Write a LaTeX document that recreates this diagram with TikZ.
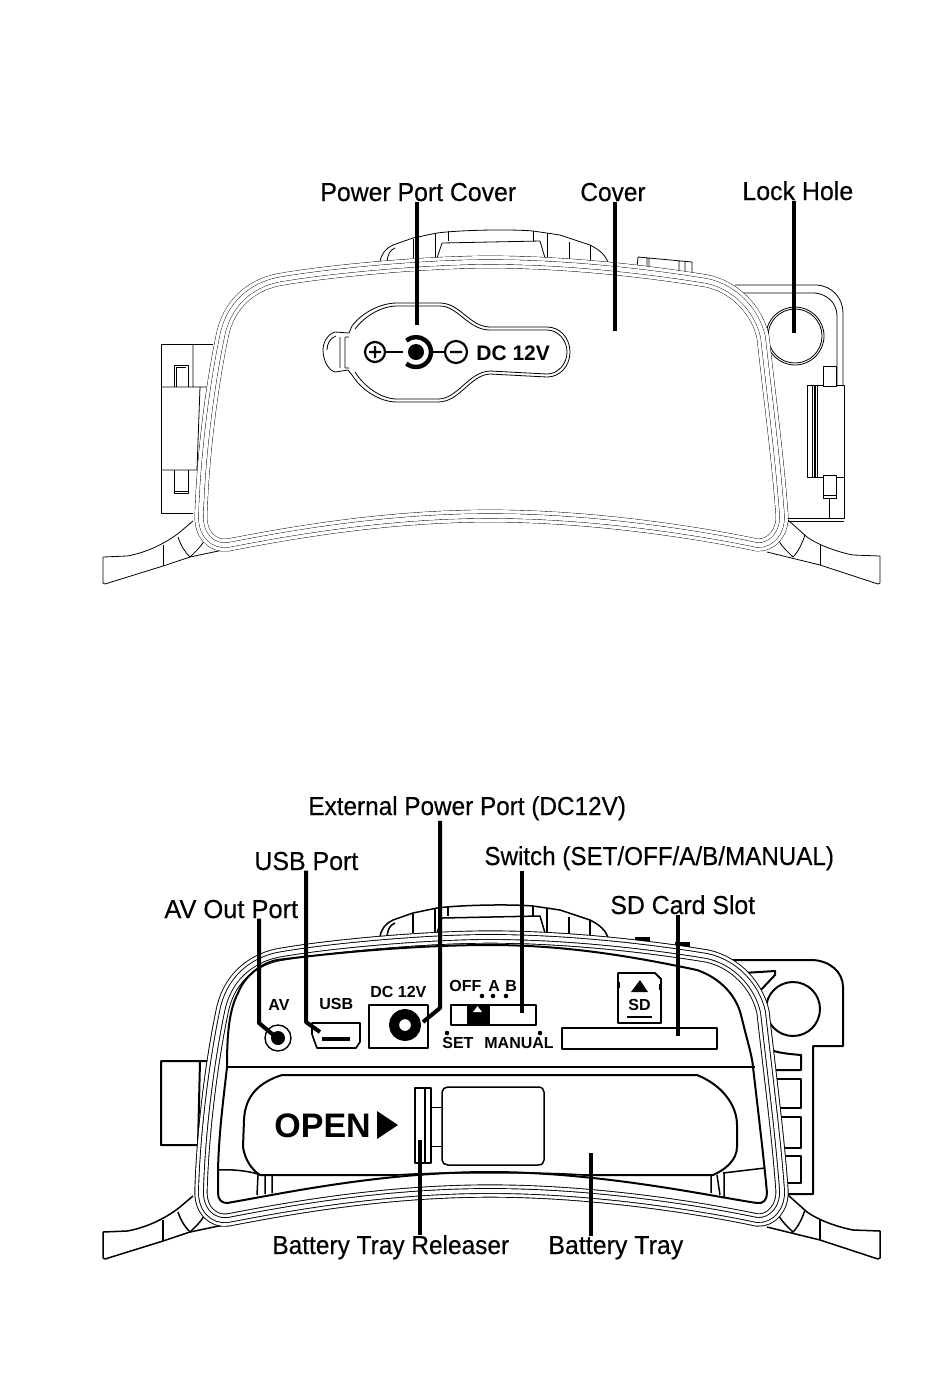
\documentclass[tikz,border=0pt]{standalone}
\usepackage{fontspec}
\usepackage{graphicx}
\setmainfont{Liberation Sans}
\newfontfamily\lblfont[FakeBold=0.35,FakeStretch=0.94]{Liberation Sans}
\newfontfamily\prtfont[Scale=1]{Liberation Sans Bold}
\newcommand\sx[2]{\scalebox{#1}[1]{#2}}
\begin{document}
\begin{tikzpicture}[x=0.5pt,y=-0.5pt,line join=round,
  lbl/.style={anchor=base west,inner sep=0pt,font=\lblfont\fontsize{13}{13}\selectfont},
  prt/.style={anchor=base west,inner sep=0pt,font=\prtfont\fontsize{8}{8}\selectfont},
  leader/.style={line width=2pt,black},
  fine/.style={line width=0.4pt,black},
  mid/.style={line width=0.75pt,black},
  heavy/.style={line width=1pt,black}]
\useasboundingbox (0,0) rectangle (950,1378);
\fill[white] (0,0) rectangle (950,1378);
\def\bodypath{(490,262) .. controls (560,262) and (640,270) .. (707,281) .. controls (735,287) and (757,310) .. (763,337) .. controls (770,400) and (778,460) .. (782,515) .. controls (783,532) and (772,546) .. (757,545) .. controls (710,535) and (600,516) .. (490,516) .. controls (380,516) and (280,535) .. (228,545) .. controls (213,547) and (200,535) .. (201,515) .. controls (203,450) and (213,380) .. (222,337) .. controls (228,305) and (250,286) .. (277,280) .. controls (320,272) and (420,262) .. (490,262) -- cycle}
\def\wings{%
  \draw (103,557)--(127,556) .. controls (145,553) and (165,544) .. (180,532) -- (193,521);
  \draw (103,557)--(103,583)--(105,584)--(163,566)--(190,557)--(228,549);
  \draw (163,545)--(163,566);
  \draw (178,537) .. controls (181,546) and (185,552) .. (190,557) .. controls (195,552) and (200,548) .. (204,541);
  \draw (788,520)--(807,537) .. controls (820,546) and (838,552) .. (853,555)--(880,556)--(880,583)--(878,584)--(820,565)--(767,552);
  \draw (820,545)--(820,565);
  \draw (805,535) .. controls (802,544) and (798,552) .. (793,557) .. controls (788,552) and (783,548) .. (779,541);
}
\def\handlepath{%
  \draw (380,262) .. controls (381,254) and (386,248) .. (393,245) -- (413,238) -- (437,233) .. controls (460,230) and (510,229) .. (533,231) -- (560,235) -- (590,245) .. controls (600,250) and (605,255) .. (608,262);
  \draw (387,261) .. controls (388,254) and (390,250) .. (395,248);
  \draw (437,258)--(442,243)--(540,241)--(545,258);
  \draw (413,239)--(413,258) (435,233)--(435,257) (448,231)--(448,241) (533,231)--(533,241) (547,233)--(547,257) (569,242)--(569,259) (590,245)--(590,260);
}
% ===== top view =====
\begin{scope}[fine]
\draw (213,344)--(161,344)--(161,513)--(193,513);
\draw (161,387)--(207,387) (161,470)--(197,470) (193,344)--(193,387) (200,387)--(197,470);
\draw (174,387)--(174,365)--(188,365)--(188,387) (176,387)--(176,367)--(186,367);
\draw (174,470)--(174,493)--(188,493)--(188,470) (174,491)--(188,491);
\wings
\handlepath
\draw (637,267)--(638,257)--(692,262)--(692,273) (647,258)--(647,268) (649,258)--(649,268) (679,261)--(679,271) (685,262)--(685,272);
\draw (735,285)--(817,285) .. controls (832,286) and (843,298) .. (843,313) -- (843,385);
\draw (738,293)--(815,293) .. controls (826,294) and (837,302) .. (837,316) -- (837,385);
\draw (807,385) rectangle (844,477);
\draw (812,385)--(812,477) (817,385)--(817,477);
\draw[line width=1pt] (814.5,385)--(814.5,477);
\draw[fill=white] (823,366) rectangle (836,386);
\draw[fill=white] (823,475) rectangle (836,498);
\draw (823,495)--(836,495);
\draw (844,477)--(844,518)--(787,518) (787,521)--(844,521) (829,498)--(829,518);
\draw[fill=white] (795,336) circle[radius=29];
\draw (795,336) circle[radius=27];
\end{scope}
\fill[white] \bodypath;
\draw[line width=6.35pt,black] \bodypath;
\draw[line width=5.95pt,white] \bodypath;
\draw[line width=2.6pt,black] \bodypath;
\draw[line width=2.2pt,white] \bodypath;
% power port cover
\def\capshape{(323,350) .. controls (323,342) and (328,334) .. (335,332) -- (349,333) -- (352,326) .. controls (360,315) and (378,303) .. (397,303) -- (440,303) .. controls (460,303) and (470,327) .. (490,327) -- (547,327) .. controls (560,327) and (570,338) .. (570,352) .. controls (570,366) and (560,377) .. (547,377) -- (490,374) .. controls (470,375) and (460,402) .. (438,402) -- (397,402) .. controls (378,402) and (360,388) .. (352,375) -- (348,370) -- (335,372) .. controls (328,370) and (323,360) .. (323,350) -- cycle}
\draw[fine,fill=white] \capshape;
\draw[fine] (327,350) .. controls (327,344) and (330,338) .. (336,336) (340,337)--(340,368) (345,337)--(349,337) (345,368)--(349,368) (345,337)--(345,368);
\draw[fine] (355,329) .. controls (363,318) and (380,306) .. (397,306) -- (440,306) .. controls (458,306) and (468,330) .. (490,330) -- (547,330) .. controls (558,330) and (567,340) .. (567,352) .. controls (567,364) and (558,374) .. (547,374) -- (490,371) .. controls (468,372) and (458,399) .. (438,399) -- (397,399) .. controls (380,399) and (363,385) .. (355,372);
\draw[heavy,line width=1.1pt] (375,352) circle[radius=10] (369,352)--(381,352) (375,346)--(375,358);
\draw[line width=1.1pt] (456,352) circle[radius=11] (450,352)--(462,352);
\draw[line width=1.1pt] (385,352)--(403,352) (432,352)--(445,352);
\fill (416,352) circle[radius=8];
\draw[line width=2.2pt] (416,352) ++(130:15) arc[start angle=130,end angle=-130,radius=15];
\node[prt,font=\prtfont\fontsize{10.5}{10.5}\selectfont] (dctop) at (476,360) {DC 12V};
\node[lbl] (ppc) at (320,201) {\sx{1.015}{Power Port Cover}};
\node[lbl] (cov) at (580,201) {Cover};
\node[lbl] (lh) at (742,200) {\sx{1.02}{Lock Hole}};
\coordinate (tppc) at (417,325);
\coordinate (tcov) at (615,331);
\coordinate (tlh) at (794,333);
\draw[leader] (ppc.south -| tppc) -- (tppc);
\draw[leader] (cov.south -| tcov) -- (tcov);
\draw[leader] (lh.south -| tlh) -- (tlh);
% ===== bottom view =====
\begin{scope}[mid]
\draw[heavy] (207,1061)--(161,1061)--(161,1145)--(202,1145) (200,1061)--(198,1145);
\begin{scope}[shift={(0,675)}]
\wings
\handlepath
\end{scope}
\fill (635,937) rectangle (650,942);
\fill (675,942) rectangle (690,947);
\draw[heavy] (732,960)--(813,960) .. controls (830,961) and (843,972) .. (843,987) -- (843,1046) -- (813,1046) -- (813,1194) -- (772,1194);
\draw[heavy] (793,1009) circle[radius=27];
\draw[heavy] (743,973)--(775,971)--(775,975)--(758,993)--(755,992)--cycle;
\draw[heavy] (767,1048) .. controls (775,1053) and (790,1054) .. (801,1055) -- (801,1070) -- (768,1070);
\draw[heavy] (772,1079) rectangle (801,1108);
\draw[heavy] (777,1117) rectangle (801,1148);
\draw[heavy] (779,1156) rectangle (801,1183);
\end{scope}
\begin{scope}[shift={(0,675)}]
\fill[white] \bodypath;
\draw[line width=6.6pt,black] \bodypath;
\draw[line width=5.7pt,white] \bodypath;
\draw[line width=2.9pt,black] \bodypath;
\draw[line width=2pt,white] \bodypath;
\end{scope}
% cavity
\draw[heavy] (227,1067) .. controls (227,1035) and (229,1010) .. (238,993) .. controls (245,975) and (262,963) .. (277,960) .. controls (340,952) and (420,945) .. (490,945) .. controls (570,945) and (640,958) .. (697,970) .. controls (720,978) and (736,995) .. (741,1015) .. controls (747,1040) and (752,1055) .. (753,1067) .. controls (758,1110) and (764,1160) .. (767,1193) .. controls (767,1200) and (763,1204) .. (757,1203) .. controls (710,1196) and (600,1172) .. (490,1172) .. controls (380,1172) and (280,1194) .. (227,1203) .. controls (222,1203) and (218,1200) .. (218,1193) -- (218,1170) .. controls (219,1130) and (224,1095) .. (227,1067) -- cycle;
\draw[heavy] (227,1067)--(755,1067);
\draw[heavy] (282,1075)--(697,1075) .. controls (722,1085) and (737,1105) .. (737,1125) -- (737,1147) .. controls (737,1160) and (725,1170) .. (713,1175) -- (583,1175);
\draw[heavy] (282,1075) .. controls (260,1082) and (245,1095) .. (244,1120) -- (243,1147) .. controls (245,1160) and (252,1170) .. (260,1175) -- (397,1175);
\draw[mid] (397,1175) .. controls (430,1172) and (550,1172) .. (583,1175);
\draw[mid] (218,1170) .. controls (232,1169) and (248,1171) .. (258,1174);
\draw[mid] (258,1175)--(257,1195) (265,1175)--(265,1194) (272,1175)--(272,1193);
\draw[mid] (711,1175)--(711,1193) (717,1175)--(720,1195) (724,1173)--(724,1197) (723,1173)--(765,1168);
\draw[mid] (415,1088) rectangle (431,1163) (425,1088)--(425,1163);
\draw[mid] (442,1092) .. controls (442,1089) and (445,1087) .. (448,1087) -- (538,1087) .. controls (542,1087) and (544,1089) .. (544,1092) -- (544,1160) .. controls (544,1163) and (542,1165) .. (538,1165) -- (448,1165) .. controls (445,1165) and (442,1163) .. (442,1160) -- cycle;
\draw[fine] (431,1107)--(442,1107) (431,1146)--(442,1146);
\node[prt,font=\prtfont\fontsize{17}{17}\selectfont] (open) at (274,1137) {OPEN};
\fill (377,1111)--(398,1125)--(377,1139)--cycle;
% ports
\node[prt] (avt) at (268,1010) {AV};
\draw[line width=.7pt] (278,1038) circle[radius=13];
\fill (278,1038) circle[radius=7];
\node[prt] (usbt) at (319,1009) {USB};
\draw[line width=.8pt] (312,1023)--(360,1023)--(360,1042)--(356,1048)--(317,1048)--(314,1040)--(312,1034)--cycle;
\draw[line width=2pt] (322,1039)--(350,1039);
\node[prt] (dct) at (370,997) {DC 12V};
\draw[line width=.8pt] (369,1005) rectangle (428,1048);
\draw[line width=5pt] (405,1025) circle[radius=11];
\node[prt] (off) at (449,991) {OFF};
\node[prt] (sa) at (488,991) {A};
\node[prt] (sb) at (505,991) {B};
\draw[line width=.8pt] (451,1005) rectangle (536,1025);
\fill (467,1005) rectangle (490,1025);
\fill[white] (473,1012)--(482,1012)--(477.5,1006)--cycle;
\foreach \p in {(482,996),(493,996),(506,996),(447,1033),(540,1033)} \fill \p circle[radius=2.3];
\node[prt] (setm) at (442,1048) {SET};
\node[prt] (man) at (484,1048) {MANUAL};
% SD icon
\draw[line width=.9pt] (618,973)--(655,973)--(661,979)--(661,1023)--(618,1023)--cycle;
\fill (618,982) rectangle (620,988);
\fill (659,984) rectangle (661,990);
\fill (631,992)--(648,992)--(640,980)--cycle;
\node[prt] (sdt) at (628,1010) {SD};
\draw[line width=1.1pt] (627,1017)--(652,1017);
\draw[line width=.8pt] (562,1028) rectangle (717,1049);
% labels and leaders
\node[lbl] (ext) at (308,815) {\sx{.995}{External Power Port (DC12V)}};
\node[lbl] (usbl) at (254,870) {\sx{1.02}{USB Port}};
\node[lbl] (swl) at (484,865) {\sx{.99}{Switch (SET/OFF/A/B/MANUAL)}};
\node[lbl] (avl) at (164,918) {\sx{1.04}{AV Out Port}};
\node[lbl] (sdl) at (610,914) {\sx{1.015}{SD Card Slot}};
\node[lbl] (brl) at (272,1254) {Battery Tray Releaser};
\node[lbl] (btl) at (548,1254) {\sx{1.02}{Battery Tray}};
\coordinate (av1) at (259,1023);
\coordinate (av2) at (277,1038);
\coordinate (us1) at (306,1022);
\coordinate (us2) at (320,1032);
\coordinate (dc1) at (440,1008);
\coordinate (dc2) at (423,1022);
\coordinate (tsw) at (522,1013);
\coordinate (tsd) at (678,1036);
\coordinate (tbr) at (420,1140);
\coordinate (tbt) at (591,1153);
\draw[leader] (avl.south -| av1) -- (av1) -- (av2);
\draw[leader] (usbl.south -| us1) -- (us1) -- (us2);
\draw[leader] (ext.south -| dc1) -- (dc1) -- (dc2);
\draw[leader] (swl.south -| tsw) -- (tsw);
\draw[leader] (sdl.south -| tsd) -- (tsd);
\draw[leader] (brl.north -| tbr) -- (tbr);
\draw[leader] (btl.north -| tbt) -- (tbt);
\end{tikzpicture}
\end{document}
